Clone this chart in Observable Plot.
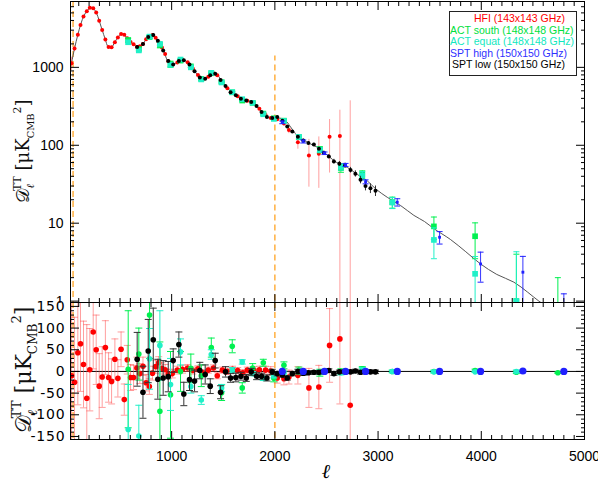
<!DOCTYPE html>
<html><head><meta charset="utf-8">
<script src="https://cdn.jsdelivr.net/npm/d3@7"></script>
<script src="https://cdn.jsdelivr.net/npm/@observablehq/plot@0.6"></script>
<style>
body{margin:0;background:#fff;}
#chart{position:relative;width:598px;height:483px;background:#fff;font-family:"Liberation Sans",Arial,sans-serif;overflow:hidden;}
#chart > svg, #chart > div{position:absolute;}
#legend{left:449px;top:11px;width:126px;height:62px;border:1px solid #222;background:#fff;font-family:"Liberation Sans",Arial,sans-serif;font-size:10.5px;line-height:11.6px;text-align:right;padding:1px 0 0 0;box-sizing:content-box;}
#legend div{padding-right:11px;white-space:nowrap;}
</style></head><body><div id="chart"></div>
<script>
// ---------- data ----------
const modelL = [20,31,59,91,120,150,182,207,222,237,269,298,327,356,385,418,447,479,511,540,582,628,673,721,767,815,854,886,925,957,989,1038,1086,1120,1183,1232,1280,1330,1393,1440,1490,1540,1580,1630,1684,1740,1790,1840,1893,1942,2000,2050,2100,2169,2230,2300,2378,2440,2523,2600,2702,2798,2895,2976,3089,3217,3347,3450,3541,3700,3850,3993,4150,4316,4450,4558,4700,4850,5000];
const modelD = [1000,1160,1750,2620,3600,4600,5340,5800,5850,5780,5070,3970,3010,2310,1840,1805,2090,2420,2680,2620,2240,1995,1805,1995,2420,2620,2310,1995,1590,1240,1100,1120,1240,1230,1070,860,730,720,838,810,642,540,478,430,400,372,355,300,252,225,222,223,210,160,127,112,99,90,72,60,52,42.3,35,27.6,21.5,16.9,12.6,10.5,8.5,6.2,4.3,3.0,2.2,1.75,1.3,1.0,0.75,0.58,0.45];

const hfiL = [30,59,91,117,146,178,207,240,269,298,327,358,389,418,450,479,510,541,570,602,631,663,692,722,753,784,814,845,875,906,937,968,1006,1055,1105,1155,1205,1255,1305,1355,1405,1442,1491,1540,1590,1640,1690,1733,1797,1850,1910,1960,2023,2088,2136,2223,2330,2426,2530,2630,2730];
const hfiD = [1130,1750,2620,3500,4500,5250,5800,5750,5070,3970,3010,2280,1830,1805,2100,2420,2680,2630,2360,2120,1980,1830,1860,2000,2300,2500,2600,2400,2100,1800,1480,1200,1090,1150,1240,1160,970,800,720,760,840,790,645,540,475,425,390,372,350,295,245,224,215,191,157,109,74,78,129,132,-28];
const hfiRes = [-10,-25,43,64,16,-62,4,91,50,-34,-13,55,-14,-23,28,-16,51,-65,27,-14,-14,8,-5,12,-26,-35,-4,11,20,7,4,-6,-5,3,5,8,2,6,-3,3,8,-10,3,0,5,2,-3,3,3,4,3,1,-15,-17,-13,-9,-38,-36,60,75,-78];
const hfiErr = [220,150,120,110,100,170,95,85,80,75,70,62,57,52,47,43,40,36,33,30,28,25,23,21,19,18,16,15,14,13,12,11,10,9,9,8,8,7,7,7,7,7,7,7,7,7,7,7,8,8,9,10,12,14,16,20,45,50,85,150,400];

const sptlL = [666,722,773,822,866,918,967,1015,1070,1118,1173,1222,1273,1325,1374,1422,1474,1522,1571,1622,1671,1723,1771,1823,1871,1923,1975,2023,2072,2120,2169,2223,2275,2325,2378,2427,2475,2523,2572,2625,2680,2733,2780,2830,2878,2926,2975];
const sptlD = [1830,1990,2450,2600,2200,1650,1210,1090,1210,1230,1090,890,740,715,790,830,690,575,480,440,395,375,360,318,268,230,224,230,207,174,150,129,115,107,102,90,80,72,62,58,55,48,43,36,30,28,26];
const sptlRes = [28,-48,47,73,-18,-15,-12,25,62,-52,-19,-22,2,-7,-34,25,-48,-1,-15,-14,-11,-15,-1,-11,-11,-15,-1,-5,-8,-15,-5,0,-4,-3,-2,-2,0,2,-5,-1,0,-1,1,-2,0,-1,-1];
const sptlErr = [62,60,73,73,46,40,35,27,29,27,25,25,19,22,17,17,15,12,10,10,9,8,8,8,7,7,6,5,5,5,5,5,5,4,4,4,4,4,4,4,4,4,4,4,4,4,4];

const actsL = [579,682,786,886,989,1086,1186,1287,1384,1484,1587,1684,1785,1888,1990,2088,2233,2436,2640,2847,3138,3541,3940,4340,4742];
const actsD = [2240,1720,2450,1940,1100,1220,1030,710,840,645,478,375,350,255,222,207,127,88,51,42,18.6,9.1,6.8,1.0,0.5];
const actsRes = [5,40,130,-92,-54,0,7,-10,55,-49,58,-38,8,20,-16,14,2,-3,0,6,0,0,2,-2,-3];
const actsErr = [135,60,100,160,100,46,33,25,22,18,15,12,10,8,8,8,8,8,6,5,3,2.9,3.3,3,1.5];

const acteL = [579,682,786,886,989,1086,1186,1287,1384,1484,1587,1684,1785,1888,1990,2088,2233,2436,2640,2847,3138,3541,3940,4340];
const acteD = [2100,1650,2480,2000,1080,1260,1000,700,850,640,480,390,350,250,218,205,128,87,53,41,18.4,6.1,2.24,1.0];
const acteRes = [-134,-149,29,60,-30,45,-35,-66,39,-38,3,22,-5,-16,-10,-4,0,-2,-3,4,0,-1,-1,0];
const acteErr = [104,71,70,80,60,30,15,10,11,8,6,5,5,5,5,5,5,5,5,5,3,2.6,1.5,3.3];

const spthL = [2072,2275,2481,2685,2879,3186,3596,3993,4403,4800];
const spthD = [197,112,79,56,34,18.6,6.6,3.0,2.35,0.5];
const spthRes = [0,0,0,0,0,0,0,0,1,0];
const spthErr = [8,5,3,2.5,2,2,1.2,1.25,1.4,0.74];

const legendLabels = ["HFI (143x143 GHz)","ACT south (148x148 GHz)","ACT equat (148x148 GHz)","SPT high (150x150 GHz)","SPT low (150x150 GHz)"];
const xTickLabels = [1000,2000,3000,4000,5000];
const topYTickLabels = [1,10,100,1000];
const resYTickLabels = [-150,-100,-50,0,50,100,150];
const splitEll = [45, 2000];

// ---------- helpers ----------
const rows = (L,D,R,E) => L.map((l,i)=>({l, d:D[i], r:R[i], e:E[i]}));
const hfi = rows(hfiL,hfiD,hfiRes,hfiErr);
const sptl = rows(sptlL,sptlD,sptlRes,sptlErr);
const acts = rows(actsL,actsD,actsRes,actsErr);
const acte = rows(acteL,acteD,acteRes,acteErr);
const spth = rows(spthL,spthD,spthRes,spthErr);
const model = modelL.map((l,i)=>({l, d:modelD[i]}));

const RED="#ff0000", GREEN="#00f050", CYAN="#20f0c8", BLUE="#2020ff", BLACK="#000000", ORANGE="#ffb040";
const cap = {draw(ctx,size){const r=Math.sqrt(size/Math.PI); ctx.moveTo(-r,0); ctx.lineTo(r,0);}};
const lo = d => Math.max(d.d - d.e, 0.3);
const hi = d => d.d + d.e;

const xMinor = d3.range(100,5000,100).filter(v=>v%1000!==0);
const yMinorTop = [];
[1,10,100,1000].forEach(b=>[2,3,4,5,6,7,8,9].forEach(m=>{if(b*m<7000) yMinorTop.push(b*m);}));
const resMinor = d3.range(-150,160,10).filter(v=>v%50!==0);

const sets = [
  {rows:hfi, color:RED, bar:"#ff5050", barOp:0.55, capsTop:false, capsBot:true, rTop:2, symTop:"circle", rBot:2.8},
  {rows:acts, color:GREEN, bar:GREEN, barOp:1, capsTop:true, capsBot:true, rTop:3.2, symTop:"square", rBot:2.8},
  {rows:acte, color:CYAN, bar:CYAN, barOp:1, capsTop:true, capsBot:true, rTop:3.2, symTop:"square", rBot:2.8},
  {rows:sptl, color:BLACK, bar:"#333", barOp:1, capsTop:false, capsBot:true, rTop:2, symTop:"circle", rBot:2.8},
  {rows:spth, color:BLUE, bar:BLUE, barOp:0.9, capsTop:true, capsBot:false, rTop:1.6, symTop:"square", rBot:3.6}
];

function axesTicks(xAnchorList, yAnchorList, xMaj, xMin, yMaj, yMin) {
  const m = [];
  xAnchorList.forEach(a=>{
    m.push(Plot.axisX(xMaj,{anchor:a, tickSize:-8, fill:"none", label:null}));
    m.push(Plot.axisX(xMin,{anchor:a, tickSize:-4, fill:"none", label:null}));
  });
  yAnchorList.forEach(a=>{
    m.push(Plot.axisY(yMaj,{anchor:a, tickSize:-9, fill:"none", label:null}));
    m.push(Plot.axisY(yMin,{anchor:a, tickSize:-4, fill:"none", label:null}));
  });
  return m;
}

// ---------- top panel ----------
const topMarks = [
  Plot.ruleX([splitEll[0]], {stroke:ORANGE, strokeWidth:1.5, strokeDasharray:"6,4"}),
  Plot.ruleX([splitEll[1]], {y1:1, y2:1400, stroke:ORANGE, strokeWidth:1.5, strokeDasharray:"6,4"}),
  Plot.line(model, {x:"l", y:"d", stroke:"#555", strokeWidth:1, curve:"catmull-rom", clip:true})
];
sets.forEach(s=>{
  topMarks.push(Plot.ruleX(s.rows, {x:"l", y1:lo, y2:hi, stroke:s.bar, strokeOpacity:s.barOp, strokeWidth:1, clip:true}));
  if (s.capsTop) {
    topMarks.push(Plot.dot(s.rows, {x:"l", y:hi, symbol:cap, r:3, stroke:s.bar, strokeWidth:1, clip:true}));
    topMarks.push(Plot.dot(s.rows.filter(d=>d.d-d.e>0.3), {x:"l", y:lo, symbol:cap, r:3, stroke:s.bar, strokeWidth:1, clip:true}));
  }
  topMarks.push(Plot.dot(s.rows.filter(d=>d.d>0), {x:"l", y:"d", fill:s.color, stroke:null, r:s.rTop, symbol:s.symTop, clip:true}));
});
topMarks.push(...axesTicks(["top","bottom"],["left","right"], xTickLabels, xMinor, topYTickLabels, yMinorTop));
topMarks.push(Plot.axisY(topYTickLabels,{anchor:"left", tickSize:0, tickPadding:7, label:null, fontSize:14, tickFormat:d=>String(d)}));
topMarks.push(Plot.frame({stroke:"black", strokeWidth:1}));

const topPlot = Plot.plot({
  width:598, height:303, marginLeft:70, marginRight:14, marginTop:1, marginBottom:1,
  style:{background:"transparent", fontFamily:"Liberation Sans, Arial, sans-serif", fontSize:"14px", color:"black"},
  x:{domain:[20,5000], axis:null},
  y:{type:"log", domain:[0.96,7000], axis:null},
  marks: topMarks
});

// ---------- bottom panel ----------
const botMarks = [
  Plot.ruleX(splitEll, {stroke:ORANGE, strokeWidth:1.5, strokeDasharray:"6,4"}),
  Plot.ruleY([0], {stroke:"black", strokeWidth:1})
];
sets.forEach(s=>{
  botMarks.push(Plot.ruleX(s.rows, {x:"l", y1:d=>d.r-d.e, y2:d=>d.r+d.e, stroke:s.bar, strokeOpacity:s.barOp, strokeWidth:1, clip:true}));
  if (s.capsBot) {
    botMarks.push(Plot.dot(s.rows, {x:"l", y:d=>d.r+d.e, symbol:cap, r:3.5, stroke:s.bar, strokeOpacity:s.barOp, strokeWidth:1, clip:true}));
    botMarks.push(Plot.dot(s.rows, {x:"l", y:d=>d.r-d.e, symbol:cap, r:3.5, stroke:s.bar, strokeOpacity:s.barOp, strokeWidth:1, clip:true}));
  }
  botMarks.push(Plot.dot(s.rows, {x:"l", y:"r", fill:s.color, stroke:null, r:s.rBot, clip:true}));
});
botMarks.push(...axesTicks(["top","bottom"],["left","right"], xTickLabels, xMinor, resYTickLabels, resMinor));
botMarks.push(Plot.axisY(resYTickLabels,{anchor:"left", tickSize:0, tickPadding:5, label:null, fontSize:14, tickFormat:d=>String(d)}));
botMarks.push(Plot.axisX(xTickLabels,{anchor:"bottom", tickSize:0, tickPadding:12, label:null, fontSize:14, tickFormat:d=>String(d)}));
botMarks.push(Plot.frame({stroke:"black", strokeWidth:1}));

const botPlot = Plot.plot({
  width:598, height:183, marginLeft:70, marginRight:14, marginTop:1, marginBottom:45,
  style:{background:"transparent", fontFamily:"Liberation Sans, Arial, sans-serif", fontSize:"14px", color:"black", overflow:"visible"},
  x:{domain:[20,5000], axis:null},
  y:{domain:[-157,159], axis:null},
  marks: botMarks
});

const chart = document.getElementById("chart");
topPlot.style.left="0px"; topPlot.style.top="0px";
botPlot.style.left="0px"; botPlot.style.top="301px";
chart.appendChild(topPlot);
chart.appendChild(botPlot);
d3.select(botPlot).selectAll("g[aria-label='y-axis tick label'] text").style("font-family","DejaVu Sans").style("letter-spacing","0.8px");

// ---------- axis titles ----------
const ov = d3.select(chart).append("svg").attr("width",598).attr("height",483).style("left","0px").style("top","0px").style("pointer-events","none");
function ylabel(cx, cy, fs) {
  const t = ov.append("text").attr("transform",`translate(${cx},${cy}) rotate(-90)`).attr("text-anchor","middle")
    .style("font-family","'DejaVu Serif','Liberation Serif',serif").style("font-size",fs+"px").attr("fill","#111");
  t.append("tspan").text("𝒟");
  t.append("tspan").attr("dy",fs*0.28).style("font-size",(fs*0.6)+"px").style("font-style","italic").text("ℓ");
  t.append("tspan").attr("dx",-fs*0.38).attr("dy",-fs*0.75).style("font-size",(fs*0.6)+"px").text("TT");
  t.append("tspan").attr("dy",fs*0.47).text(" [μK");
  t.append("tspan").attr("dy",fs*0.28).style("font-size",(fs*0.55)+"px").text("CMB");
  t.append("tspan").attr("dy",-fs*0.75).style("font-size",(fs*0.6)+"px").text("2");
  t.append("tspan").attr("dy",fs*0.47).text("]");
}
ylabel(29, 151, 18);
ylabel(31, 370, 22);
ov.append("text").attr("x",326).attr("y",478).attr("text-anchor","middle")
  .style("font-family","'DejaVu Serif','Liberation Serif',serif").style("font-size","20px").style("font-style","italic").text("ℓ");

// ---------- legend ----------
const lg = d3.select(chart).append("div").attr("id","legend");
const lcols = [RED, "#00e040", "#10e8c0", "#3030ff", "#000"];
legendLabels.forEach((s,i)=>lg.append("div").style("color",lcols[i]).text(s));
</script></body></html>
